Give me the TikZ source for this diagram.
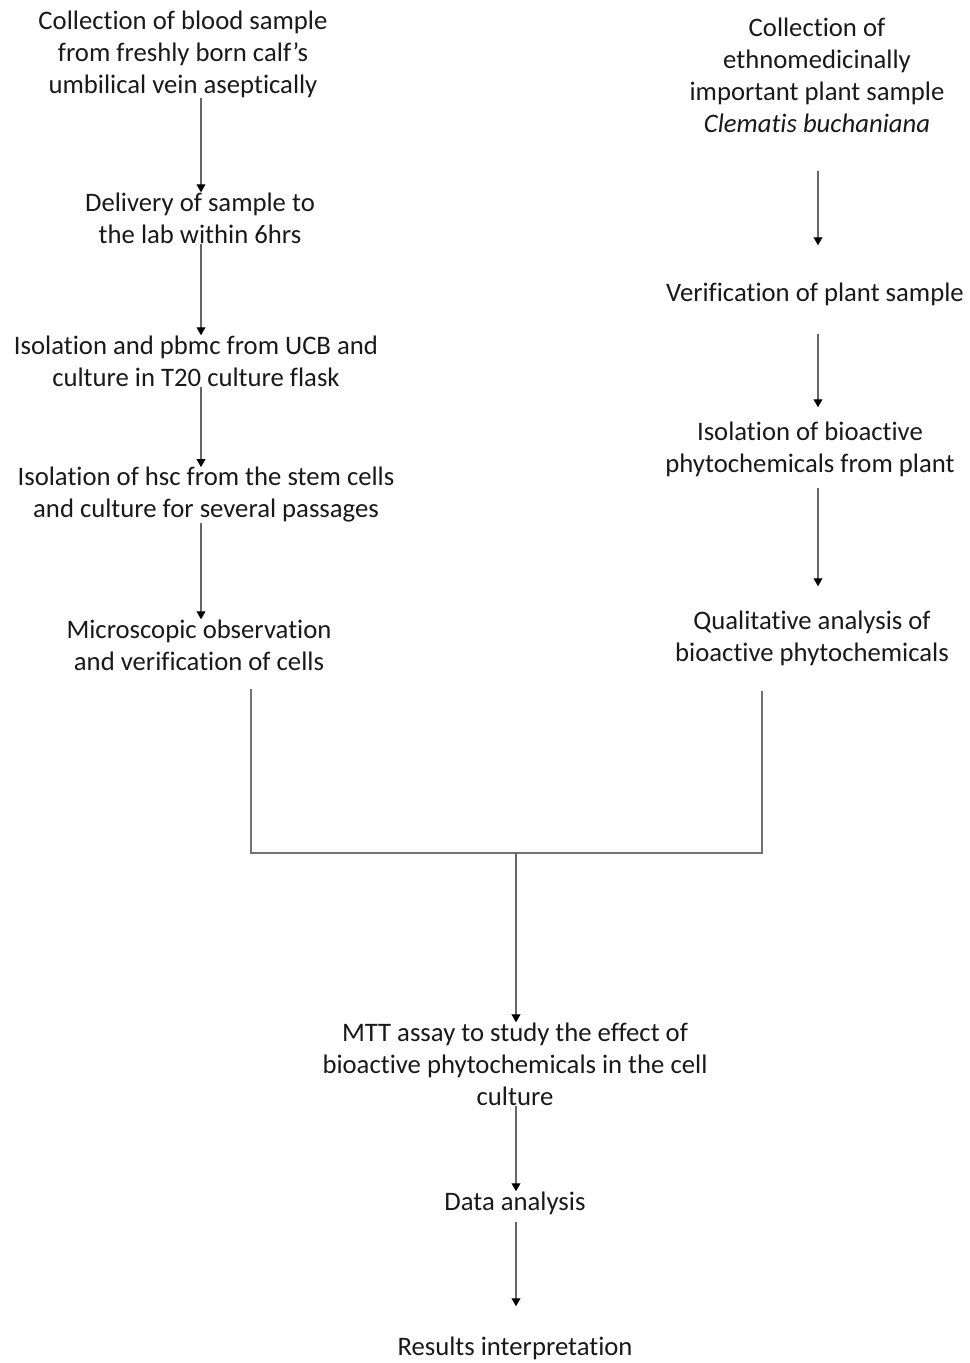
\documentclass[tikz,border=0pt]{standalone}
\usepackage{fontspec}
\setmainfont{Carlito}[Ligatures=NoCommon]
\usetikzlibrary{arrows.meta,positioning,calc}

\begin{document}
\begin{tikzpicture}[
        x=0.02cm, y=-0.02cm,
        stage/.style={align=center, inner sep=0pt, text=black!90, font=\fontsize{15.2}{18.2}\selectfont},
        arrow/.style={-{Triangle[length=4.5pt, width=5pt, black]}, line width=0.6pt, black!60},
        link/.style={line width=0.6pt, black!55}
    ]
        \useasboundingbox (0,0) rectangle (970,1363);

        % Left column (cells)
        \node[stage] (c1) at (183,54) {Collection of blood sample\\from freshly born calf's\\umbilical vein aseptically};
        \node[stage] (c2) at (200,218) {Delivery of sample to\\the lab within 6hrs};
        \node[stage] (c3) at (196,361) {Isolation and pbmc from UCB and\\culture in T20 culture flask};
        \node[stage] (c4) at (206,495) {Isolation of hsc from the stem cells\\and culture for several passages};
        \node[stage] (c5) at (199,645) {Microscopic observation\\and verification of cells};

        % Right column (plant)
        \node[stage] (r1) at (817,75) {Collection of\\ethnomedicinally\\important plant sample\\\textit{Clematis buchaniana}};
        \node[stage] (r2) at (815,294) {Verification of plant sample};
        \node[stage] (r3) at (810,449) {Isolation of bioactive\\phytochemicals from plant};
        \node[stage] (r4) at (812,638) {Qualitative analysis of\\bioactive phytochemicals};

        % Joint part
        \node[stage] (m1) at (515,1064) {MTT assay to study the effect of\\bioactive phytochemicals in the cell\\culture};
        \node[stage] (m2) at (515,1203) {Data analysis};
        \node[stage] (m3) at (515,1348) {Results interpretation};

        % Columns and junction
        \coordinate (colL) at (201,0);
        \coordinate (colR) at (818,0);
        \coordinate (jl) at (251,853);
        \coordinate (jr) at (762,853);
        \coordinate (jm) at (516,853);

        % Arrows
        \foreach \i/\j in {c1/c2, c2/c3, c3/c4, c4/c5} {
            \draw[arrow] (\i.south -| colL) -- (\j.north -| colL);
        }
        \draw[arrow, shorten <=0.76cm, shorten >=0.74cm] (r1.south -| colR) -- (r2.north -| colR);
        \draw[arrow, shorten <=0.56cm, shorten >=0.28cm] (r2.south -| colR) -- (r3.north -| colR);
        \draw[arrow, shorten <=0.22cm, shorten >=0.48cm] (r3.south -| colR) -- (r4.north -| colR);

        \draw[link, shorten <=0.36cm, shorten >=0.5cm] (c5.south -| jl) -- (jl) -- (jr) -- (r4.south -| jr);
        \draw[arrow] (jm) -- (m1.north -| jm);
        \draw[arrow] (m1.south -| jm) -- (m2.north -| jm);
        \draw[arrow, shorten <=0.14cm, shorten >=0.6cm] (m2.south -| jm) -- (m3.north -| jm);

    \end{tikzpicture}
\end{document}
